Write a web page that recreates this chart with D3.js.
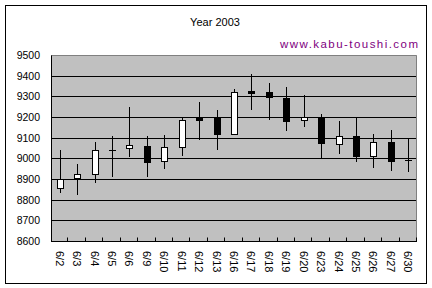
<!DOCTYPE html>
<html><head><meta charset="utf-8">
<script src="https://cdn.jsdelivr.net/npm/d3@7"></script>
<style>html,body{margin:0;padding:0;background:#fff;}svg{display:block;}</style>
</head><body>
<svg id="chart" width="432" height="288"></svg>
<script>
const dates = ["6/2","6/3","6/4","6/5","6/6","6/9","6/10","6/11","6/12","6/13","6/16","6/17","6/18","6/19","6/20","6/23","6/24","6/25","6/26","6/27","6/30"];
const openV  = [8855,8903,8923,9040,9049,9060,8986,9053,9197,9199,9119,9327,9320,9292,9184,9199,9071,9107,9013,9078,8992];
const closeV = [8900,8923,9040,9040,9063,8984,9053,9184,9187,9119,9320,9317,9295,9182,9199,9076,9107,9013,9078,8989,8992];
const highV  = [9040,8973,9080,9107,9247,9107,9112,9195,9273,9234,9335,9408,9365,9345,9306,9215,9181,9199,9118,9137,9095];
const lowV   = [8834,8824,8882,8908,9008,8911,8950,9013,9090,9042,9119,9235,9187,9134,9153,9002,9022,8984,8955,8940,8934];
const yTicks = [8600,8700,8800,8900,9000,9100,9200,9300,9400,9500];
const title = "Year 2003";
const site = "www.kabu-toushi.com";

const svg = d3.select("#chart");
const L = 51, R = 417, T = 55, B = 241;
const x = d3.scaleBand().domain(dates).range([L, R]).padding(0);
const y = d3.scaleLinear().domain([8600, 9500]).range([B, T]);

// outer border
svg.append("rect").attr("x",5.5).attr("y",5.5).attr("width",421).attr("height",278)
  .attr("fill","#fff").attr("stroke","#000").attr("stroke-width",1);

// plot bg
svg.append("rect").attr("x",L).attr("y",T).attr("width",R-L).attr("height",B-T)
  .attr("fill","#c0c0c0");

// gridlines
const px = v => Math.round(y(v)) + 0.5;
svg.append("g").selectAll("line").data(yTicks.filter(v=>v>8600 && v<9500)).join("line")
  .attr("x1",L).attr("x2",R).attr("y1",px).attr("y2",px)
  .attr("stroke","#000").attr("stroke-width",1);

// plot border top/right gray
svg.append("path").attr("d",`M${L},${px(9500)}H${R-0.5}V${B}`)
  .attr("fill","none").attr("stroke","#808080").attr("stroke-width",1);

// axes lines
svg.append("line").attr("x1",L+0.5).attr("x2",L+0.5).attr("y1",px(9500)).attr("y2",px(8600)).attr("stroke","#000");
svg.append("line").attr("x1",L).attr("x2",R).attr("y1",px(8600)).attr("y2",px(8600)).attr("stroke","#000");

// y labels
svg.append("g").selectAll("text").data(yTicks).join("text")
  .attr("x",40).attr("y",d=>y(d)+4).attr("text-anchor","end")
  .attr("font-family","Liberation Sans, Arial, sans-serif").attr("font-size",10.5)
  .attr("fill","#000").text(d=>d);

// x ticks (inside) at band boundaries
const bounds = dates.slice(1).map(d=>x(d)).concat([R]);
svg.append("g").selectAll("line").data(bounds).join("line")
  .attr("x1",d=>Math.round(d)-0.5).attr("x2",d=>Math.round(d)-0.5)
  .attr("y1",px(8600)).attr("y2",px(8600)-4).attr("stroke","#000");

// x labels rotated
svg.append("g").selectAll("text").data(dates).join("text")
  .attr("transform",d=>`translate(${x(d)+x.bandwidth()/2-4},251) rotate(90)`)
  .attr("font-family","Liberation Sans, Arial, sans-serif").attr("font-size",11)
  .attr("fill","#000").text(d=>d);

// candles
const data = dates.map((d,i)=>({d, o:openV[i], c:closeV[i], h:highV[i], l:lowV[i]}));
const cx = d => Math.round(x(d.d)+x.bandwidth()/2);
const g = svg.append("g").attr("shape-rendering","crispEdges");
g.selectAll("line.wick").data(data).join("line").attr("class","wick")
  .attr("x1",d=>cx(d)+0.5).attr("x2",d=>cx(d)+0.5)
  .attr("y1",d=>Math.round(y(d.h))).attr("y2",d=>Math.round(y(d.l)))
  .attr("stroke","#000").attr("stroke-width",1);
data.forEach(d=>{
  const top = Math.round(y(Math.max(d.o,d.c)));
  const bot = Math.round(y(Math.min(d.o,d.c)));
  if (bot - top < 1) {
    g.append("line").attr("x1",cx(d)-3).attr("x2",cx(d)+4)
      .attr("y1",top+0.5).attr("y2",top+0.5).attr("stroke","#000");
  } else if (d.c >= d.o) {
    g.append("rect").attr("x",cx(d)-2.5).attr("y",top+0.5).attr("width",6).attr("height",bot-top)
      .attr("fill","#fff").attr("stroke","#000").attr("stroke-width",1);
  } else {
    g.append("rect").attr("x",cx(d)-3).attr("y",top).attr("width",7).attr("height",bot-top+1)
      .attr("fill","#000");
  }
});

// title
svg.append("text").attr("x",215).attr("y",26).attr("text-anchor","middle")
  .attr("font-family","Liberation Sans, Arial, sans-serif").attr("font-size",11)
  .attr("fill","#000").text(title);
svg.append("text").attr("x",418).attr("y",48).attr("text-anchor","end")
  .attr("font-family","Liberation Sans, Arial, sans-serif").attr("font-size",11.5)
  .attr("textLength",138).attr("lengthAdjust","spacing")
  .attr("fill","#800080").text(site);
</script>
</body></html>
